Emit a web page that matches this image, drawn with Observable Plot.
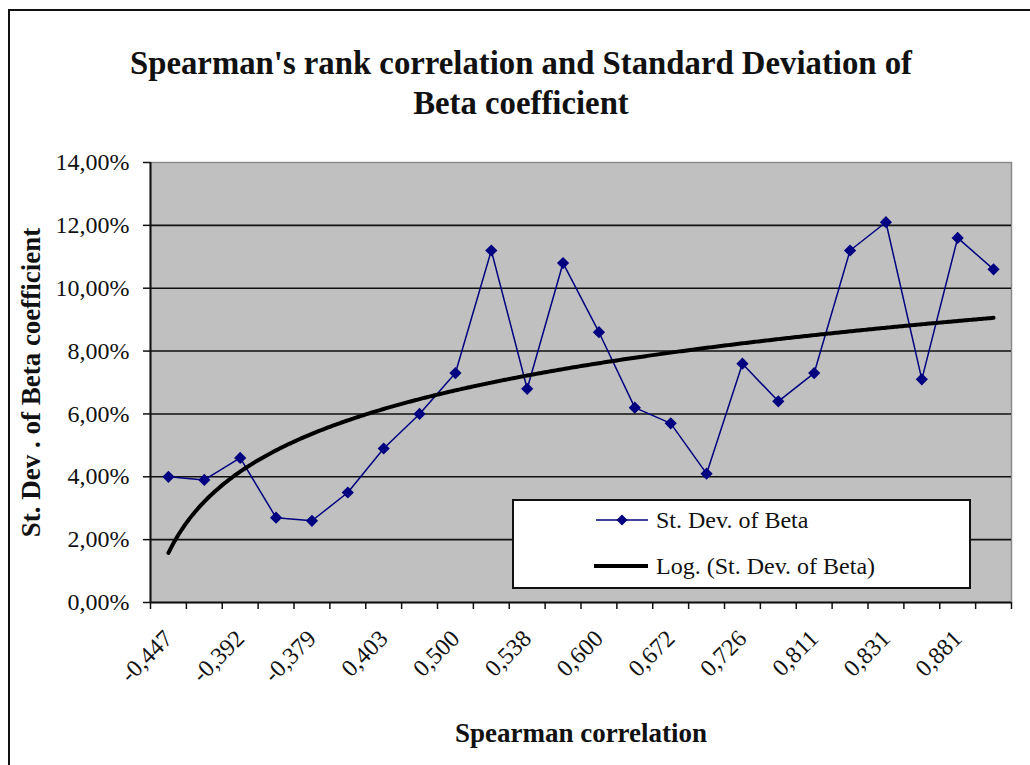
<!DOCTYPE html>
<html><head><meta charset="utf-8">
<script src="https://cdn.jsdelivr.net/npm/d3@7"></script>
<script src="https://cdn.jsdelivr.net/npm/@observablehq/plot@0.6"></script>
<style>
body{margin:0;background:#fff;width:1030px;height:765px;overflow:hidden;position:relative;font-family:"Liberation Serif","Times New Roman","DejaVu Serif",serif;color:#111;}
#border{position:absolute;left:8px;top:9px;width:1040px;height:800px;border-top:2px solid #111;border-left:2px solid #111;}
#title{position:absolute;left:0;top:43px;width:1042px;text-align:center;font-weight:bold;font-size:34px;line-height:40px;color:#111;transform-origin:521px 0;}
#title span{display:inline-block;white-space:nowrap;}
#chart{position:absolute;left:0;top:140px;}
#legend{position:absolute;left:512px;top:499px;width:455px;height:86px;border:2px solid #111;background:#fff;}
.entry{position:absolute;left:80px;height:30px;display:flex;align-items:center;font-size:24px;white-space:nowrap;}
.entry svg{margin-right:6px;}
[aria-label="y-axis label"] text,[aria-label="x-axis label"] text{font-weight:bold;font-size:27px;}
</style></head>
<body>
<div id="border"></div>
<div id="title"><span id="t1">Spearman's rank correlation and Standard Deviation of</span><br><span id="t2">Beta coefficient</span></div>
<div id="chart"></div>
<div id="legend">
  <div class="entry" style="top:4px"><svg width="56" height="20"><line x1="2" y1="10" x2="54" y2="10" stroke="#000080" stroke-width="1.5"/><path d="M28,4.5L33.5,10L28,15.5L22.5,10Z" fill="#000080"/></svg>St. Dev. of Beta</div>
  <div class="entry" style="top:50px"><svg width="56" height="20"><line x1="0" y1="10" x2="54" y2="10" stroke="#000" stroke-width="4"/></svg>Log. (St. Dev. of Beta)</div>
</div>
<script>
const tickLabels = ["-0,447","-0,392","-0,379","0,403","0,500","0,538","0,600","0,672","0,726","0,811","0,831","0,881"];
const stdevBeta = [4.0,3.9,4.6,2.7,2.6,3.5,4.9,6.0,7.3,11.2,6.8,10.8,8.6,6.2,5.7,4.1,7.6,6.4,7.3,11.2,12.1,7.1,11.6,10.6];
const yTicks = [0,2,4,6,8,10,12,14];

const data = stdevBeta.map((v,i)=>({i, v}));
// Logarithmic trendline (least squares on ln(index))
const xs = stdevBeta.map((_,i)=>Math.log(i+1));
const mx = d3.mean(xs), my = d3.mean(stdevBeta);
const a = d3.sum(xs.map((x,i)=>(x-mx)*(stdevBeta[i]-my)))/d3.sum(xs.map(x=>(x-mx)**2));
const b = my - a*mx;
const trend = d3.range(0, 23.0001, 0.05).map(t=>({i:t, y:a*Math.log(t+1)+b}));

const chart = Plot.plot({
  width:1030, height:625, marginTop:22, marginBottom:163, marginLeft:150, marginRight:19,
  x:{domain:[-0.5,23.5]}, y:{domain:[0,14]},
  style:{fontFamily:"'Liberation Serif','Times New Roman','DejaVu Serif',serif", fontSize:"24px", color:"#111", background:"transparent", overflow:"visible"},
  marks:[
    Plot.frame({fill:"#c0c0c0", stroke:"#8a8a8a", strokeWidth:1.5}),
    Plot.gridY(yTicks.slice(1,-1), {stroke:"#111", strokeOpacity:1, strokeWidth:1.6}),
    Plot.ruleX([-0.5], {stroke:"#111", strokeWidth:2}),
    Plot.ruleY([0], {stroke:"#111", strokeWidth:2}),
    Plot.axisY({ticks:yTicks, tickSize:7, tickPadding:14, strokeWidth:1.5,
      tickFormat:d=>d.toFixed(2).replace(".",",")+"%",
      label:"St. Dev . of Beta coefficient", labelAnchor:"center", labelArrow:"none", labelOffset:130}),
    Plot.axisX({ticks:d3.range(-0.5,24,1), tickSize:7, strokeWidth:1.5, tickFormat:()=>"", label:null}),
    Plot.axisX({ticks:tickLabels.map((_,k)=>2*k), tickSize:0, tickPadding:32, tickRotate:-45,
      tickFormat:d=>tickLabels[d/2],
      label:"Spearman correlation", labelAnchor:"center", labelArrow:"none", labelOffset:139}),
    Plot.line(data, {x:"i", y:"v", stroke:"#000080", strokeWidth:1.5}),
    Plot.dot(data, {x:"i", y:"v", symbol:"diamond2", r:5.5, fill:"#000080", stroke:"none"}),
    Plot.line(trend, {x:"i", y:"y", stroke:"#000", strokeWidth:4})
  ]
});
document.getElementById("chart").appendChild(chart);

const t1 = document.getElementById("t1");
const w = t1.getBoundingClientRect().width;
const s = 782 / w;
document.getElementById("title").style.transform = `scaleX(${s})`;
</script>
</body></html>
